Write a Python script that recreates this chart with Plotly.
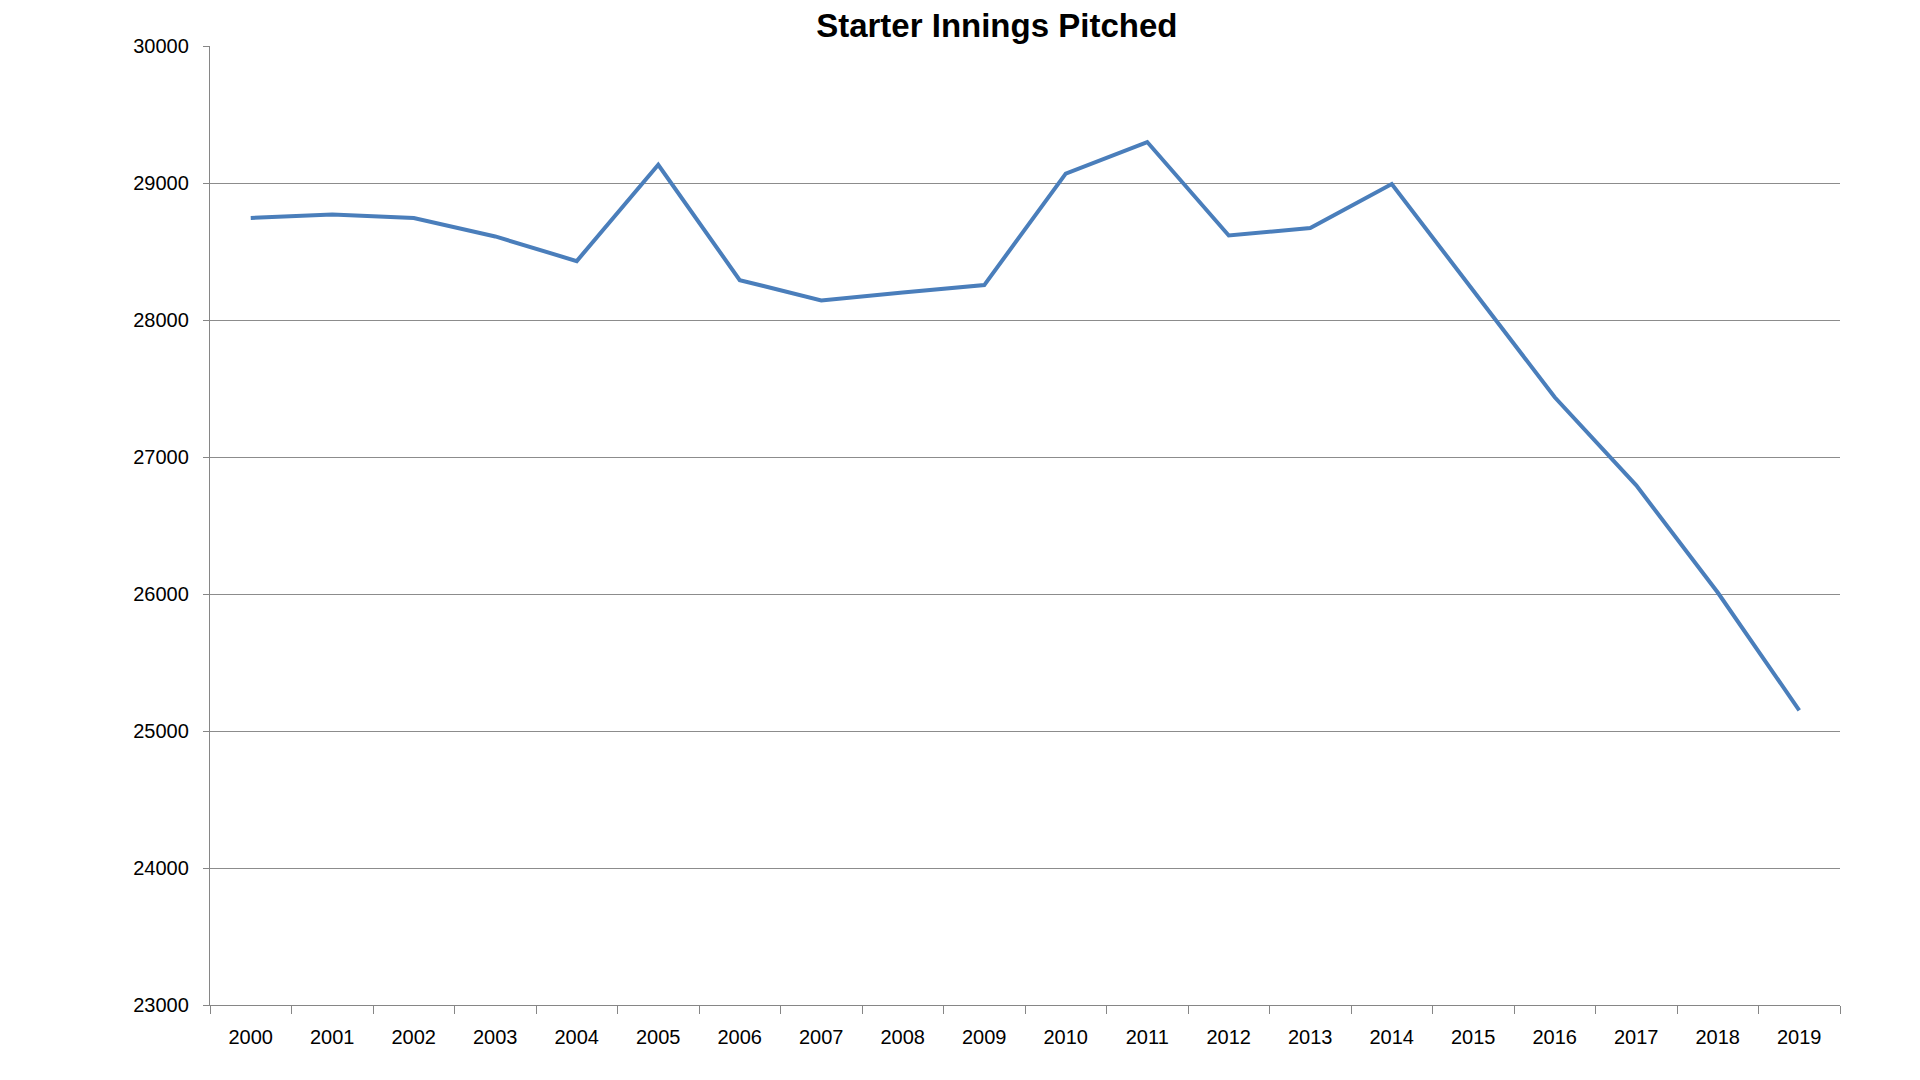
import plotly.graph_objects as go

# Datos
years = [str(y) for y in range(2000, 2020)]
innings = [28745, 28770, 28745, 28610, 28430, 29133, 28291, 28143, 28200, 28255,
           29068, 29299, 28617, 28672, 28993, 28212, 27436, 26793, 26011, 25151]
y_ticks = [23000, 24000, 25000, 26000, 27000, 28000, 29000, 30000]

fig = go.Figure(go.Scatter(
    x=years, y=innings, mode='lines',
    line=dict(color='#4A7EBB', width=4),
    hoverinfo='x+y'
))

fig.update_layout(
    title=dict(text='<b>Starter Innings Pitched</b>', x=0.515, xref='container',
               y=1 - 17 / 1080, yref='container', yanchor='middle', xanchor='center',
               font=dict(family='Liberation Sans, Arial', size=33, color='#000000')),
    width=1920, height=1080,
    margin=dict(l=202, r=88, t=38, b=83),
    paper_bgcolor='white', plot_bgcolor='white',
    showlegend=False,
    font=dict(family='Liberation Sans, Arial', size=20, color='#000000'),
)

fig.update_xaxes(
    type='category', tickson='boundaries', ticks='outside', ticklen=8,
    tickcolor='#868686', tickwidth=1.3, showline=True, linecolor='#868686', linewidth=1.3,
    showgrid=False, ticklabelstandoff=14, range=[-0.5, 19.5],
)
fig.update_yaxes(
    range=[23000, 30000], tickvals=y_ticks, tickformat='d', ticks='outside', ticklen=6,
    tickcolor='#868686', tickwidth=1.3, showline=True, linecolor='#868686', linewidth=1.3,
    showgrid=True, gridcolor='#8c8c8c', gridwidth=1.3, zeroline=False,
    ticklabelstandoff=10,
)

fig.write_html('out.html')
